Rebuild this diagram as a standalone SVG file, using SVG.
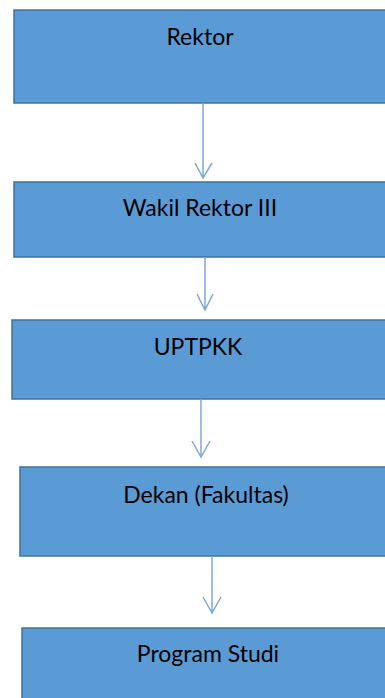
<svg xmlns="http://www.w3.org/2000/svg" width="385" height="698" viewBox="0 0 385 698">
<style>
.box{fill:#5B9BD5;stroke:#41719C;stroke-width:1.5}
.lbl{font-family:Lato,"Open Sans","Liberation Sans",sans-serif;font-size:23px;fill:#000;text-anchor:middle}
.con{stroke:#7FA8D8;stroke-width:1.5;fill:none}
</style>
<rect width="385" height="698" fill="#fff"/>
<g id="rektor"><rect class="box" x="14" y="10" width="380" height="93"/><text class="lbl" x="200" y="45">Rektor</text></g>
<g id="wakil-rektor-iii"><rect class="box" x="14" y="182" width="380" height="75"/><text class="lbl" x="200" y="216">Wakil Rektor III</text></g>
<g id="uptpkk"><rect class="box" x="12" y="320" width="382" height="79"/><text class="lbl" x="198" y="355">UPTPKK</text></g>
<g id="dekan"><rect class="box" x="20" y="467" width="374" height="89"/><text class="lbl" x="206" y="503">Dekan (Fakultas)</text></g>
<g id="program-studi"><rect class="box" x="22" y="628" width="372" height="80"/><text class="lbl" x="208" y="662">Program Studi</text></g>
<g id="connectors">
<path class="con" d="M203 103V178M195 163L203 178L212 163"/>
<path class="con" d="M205 257V310M197 294L205 310L213 294"/>
<path class="con" d="M201 399V457M192 441L201 457L210 441"/>
<path class="con" d="M212 556V613M203 597L212 613L221 597"/>
</g>
</svg>
